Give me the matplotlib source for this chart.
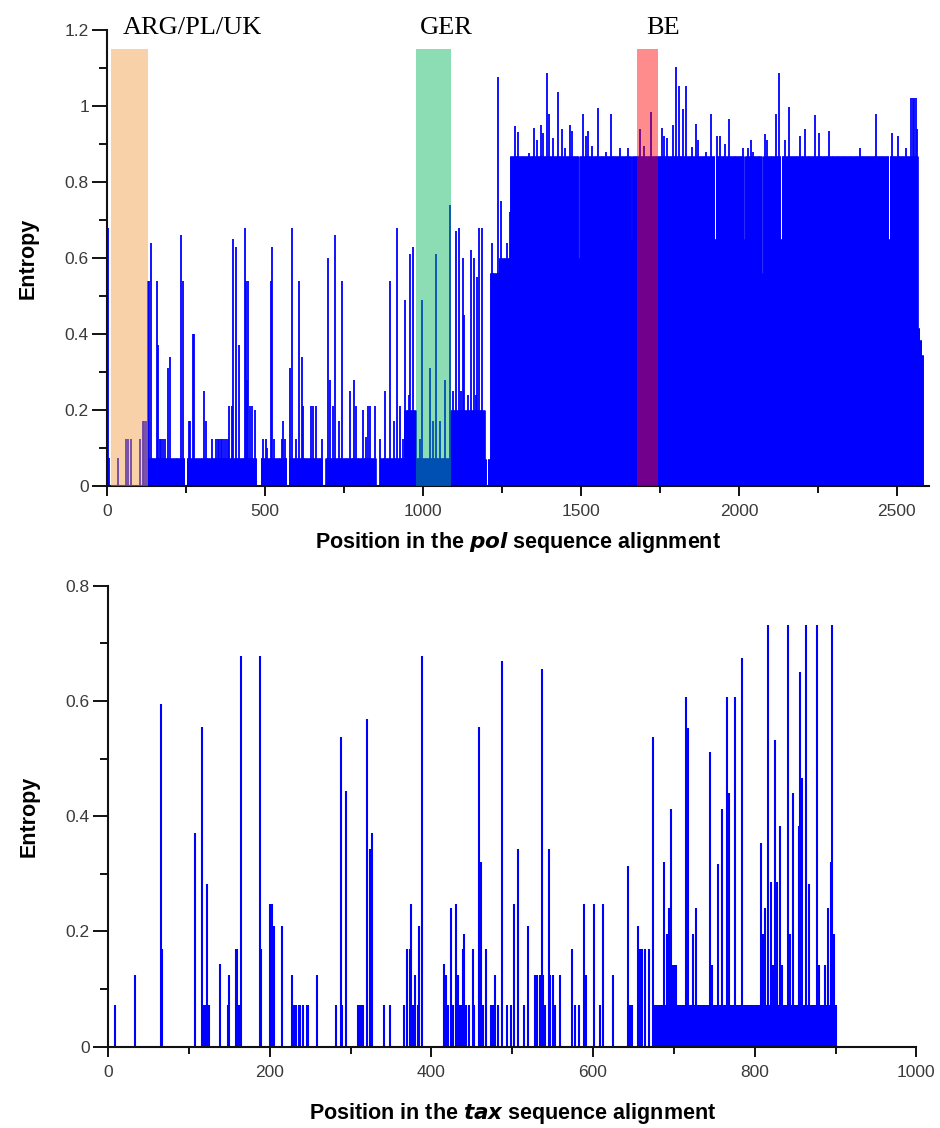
import matplotlib
matplotlib.use("Agg")
import matplotlib.pyplot as plt
from matplotlib.ticker import MultipleLocator, FormatStrFormatter
import numpy as np

# ---- pol alignment (top panel) ----
pol_length = 2583
# background fill: (start, end, entropy level)
pol_blocks = [(130, 246, 0.073), (252, 473, 0.073), (486, 569, 0.073),
              (575, 681, 0.073), (691, 851, 0.073), (863, 1200, 0.073),
              (940, 978, 0.2), (1087, 1198, 0.2), (1205, 1240, 0.56),
              (1240, 1276, 0.6),
              (1276, 2567, 0.868), (2567, 2572, 0.415), (2572, 2578, 0.384),
              (2578, 2583, 0.345)]
# narrow dips inside the filled part: (start, end, level)
pol_dips = [(1196, 1212, 0.07), (1492, 1495, 0.6), (1659, 1662, 0.65),
            (1923, 1926, 0.65), (2016, 2019, 0.65), (2073, 2076, 0.56),
            (2132, 2135, 0.65), (2474, 2477, 0.65)]
pol_spike_pos = [2, 7, 35, 59, 66, 75, 105, 113, 118, 123, 130, 134, 139, 158, 161,
                 168, 172, 176, 184, 193, 198, 234, 240, 260, 263, 272, 277, 308,
                 314, 332, 345, 350, 355, 360, 365, 370, 376, 382, 387, 395, 400,
                 408, 419, 437, 440, 442, 445, 453, 460, 468, 495, 502, 508, 518,
                 523, 530, 553, 558, 563, 579, 586, 597, 607, 616, 621, 647, 653,
                 660, 679, 700, 705, 714, 721, 735, 745, 768, 781, 789, 811, 821,
                 826, 832, 849, 865, 881, 895, 908, 919, 926, 937, 944, 955, 960,
                 968, 992, 998, 1021, 1032, 1040, 1053, 1070, 1087, 1095, 1105,
                 1114, 1121, 1127, 1131, 1142, 1151, 1160, 1168, 1170, 1176, 1186,
                 1217, 1221, 1236, 1247, 1265, 1275,
                 1291, 1302, 1337, 1351, 1360, 1373, 1381, 1393, 1398, 1413, 1426,
                 1439, 1450, 1464, 1471, 1507, 1516, 1523, 1534, 1555, 1578, 1594,
                 1623, 1650, 1686, 1698, 1722, 1756, 1763, 1772, 1790, 1801, 1809,
                 1823, 1833, 1851, 1865, 1872, 1896, 1911, 1932, 1939, 1957, 1968,
                 2012, 2030, 2039, 2046, 2082, 2090, 2117, 2127, 2146, 2160, 2192,
                 2210, 2240, 2253, 2284, 2384, 2434, 2483, 2504, 2529, 2545, 2550,
                 2555, 2560, 2564]
pol_spike_val = [0.68, 0.073, 0.073, 0.125, 0.125, 0.125, 0.125, 0.17, 0.17, 0.17, 0.54, 0.54, 0.64, 0.54, 0.37,
                 0.125, 0.125, 0.125, 0.125, 0.31, 0.34, 0.66, 0.54, 0.17, 0.17, 0.4, 0.4, 0.25,
                 0.17, 0.125, 0.125, 0.125, 0.125, 0.125, 0.125, 0.125, 0.125, 0.125, 0.21, 0.21, 0.65,
                 0.63, 0.37, 0.68, 0.54, 0.28, 0.54, 0.21, 0.21, 0.2, 0.125, 0.125, 0.1, 0.54,
                 0.63, 0.125, 0.125, 0.17, 0.125, 0.31, 0.68, 0.125, 0.54, 0.34, 0.21, 0.21, 0.21,
                 0.21, 0.125, 0.60, 0.28, 0.21, 0.66, 0.17, 0.54, 0.25, 0.28, 0.21, 0.2, 0.13,
                 0.21, 0.21, 0.21, 0.125, 0.25, 0.54, 0.17, 0.68, 0.21, 0.125, 0.49, 0.24, 0.61,
                 0.63, 0.125, 0.49, 0.31, 0.17, 0.61, 0.17, 0.28, 0.74, 0.25, 0.67,
                 0.68, 0.25, 0.60, 0.45, 0.24, 0.62, 0.60, 0.24, 0.55, 0.68, 0.68,
                 0.64, 0.56, 1.077, 0.75, 0.64, 0.72,
                 0.948, 0.932, 0.877, 0.941, 0.91, 0.95, 0.93, 1.086, 0.98, 0.915, 1.038,
                 0.94, 0.89, 0.95, 0.935, 0.98, 0.92, 0.935, 0.895, 0.994, 0.88, 0.98,
                 0.89, 0.89, 0.94, 0.895, 0.983, 0.943, 0.92, 0.915, 0.95, 1.102, 1.053,
                 0.993, 1.053, 0.893, 0.952, 0.91, 0.88, 0.979, 0.92, 0.92, 0.9, 0.967,
                 0.89, 0.89, 0.91, 0.88, 0.926, 0.91, 0.98, 1.086, 0.91, 0.997, 0.92,
                 0.94, 0.976, 0.93, 0.934, 0.89, 0.98, 0.93, 0.92, 0.89, 1.02, 1.02,
                 1.02, 1.02, 0.94]

# highlighted regions of the pol alignment
region_names = ["ARG/PL/UK", "GER", "BE"]
region_start = [12, 978, 1678]
region_end = [129, 1089, 1745]
region_top = 1.15
region_label_x = [50, 990, 1705]
region_colors = ["#f2993f", "#00b359", "#ff0000"]

# ---- tax alignment (bottom panel) ----
tax_length = 902
tax_blocks = [(679, 901, 0.073)]
tax_spike_pos = [9, 33, 66, 67, 107, 116, 119, 121, 123, 125, 139, 149, 150, 158, 160, 162,
                 164, 188, 189, 201, 203, 205, 215, 228, 230, 233, 236, 238, 241, 246, 248,
                 259, 282, 288, 289, 295, 309, 311, 313, 316, 320, 324, 327, 341, 349, 366,
                 370, 373, 375, 377, 380, 383, 385, 388, 416, 418, 421, 424, 427, 430, 433,
                 435, 437, 439, 440, 443, 446, 451, 453, 459, 461, 464, 468, 474, 476, 479,
                 483, 487, 493, 498, 502, 507, 514, 520, 528, 531, 534, 537, 538, 541, 545,
                 547, 550, 553, 559, 574, 578, 583, 589, 591, 601, 608, 612, 625, 643, 646,
                 648, 656, 658, 661, 664, 669, 674, 677,
                 688, 691, 694, 696, 699, 701, 703, 715, 718, 724, 727, 745, 747, 754, 760,
                 766, 768, 775, 784, 808, 810, 813, 817, 820, 823, 825, 828, 831, 834, 841,
                 844, 847, 855, 856, 859, 863, 867, 877, 879, 887, 891, 894, 896, 898]
tax_spike_val = [0.073, 0.124, 0.595, 0.17, 0.37, 0.555, 0.073, 0.073, 0.282, 0.073, 0.144, 0.073, 0.125, 0.17, 0.17, 0.073,
                 0.678, 0.678, 0.17, 0.247, 0.247, 0.21, 0.21, 0.124, 0.073, 0.073, 0.073, 0.073, 0.073, 0.073, 0.073,
                 0.124, 0.073, 0.538, 0.073, 0.443, 0.073, 0.073, 0.073, 0.073, 0.569, 0.343, 0.37, 0.073, 0.073, 0.073,
                 0.17, 0.17, 0.247, 0.073, 0.124, 0.073, 0.21, 0.678, 0.144, 0.125, 0.073, 0.24, 0.073, 0.247, 0.125,
                 0.073, 0.073, 0.17, 0.195, 0.073, 0.073, 0.17, 0.073, 0.555, 0.32, 0.073, 0.17, 0.073, 0.073, 0.125,
                 0.073, 0.67, 0.073, 0.073, 0.247, 0.343, 0.073, 0.21, 0.125, 0.125, 0.125, 0.656, 0.125, 0.073, 0.343,
                 0.125, 0.125, 0.073, 0.125, 0.17, 0.073, 0.073, 0.247, 0.125, 0.247, 0.073, 0.247, 0.125, 0.314, 0.073,
                 0.073, 0.21, 0.17, 0.17, 0.17, 0.17, 0.538, 0.073,
                 0.32, 0.195, 0.24, 0.413, 0.142, 0.142, 0.142, 0.606, 0.553, 0.195, 0.24, 0.511, 0.142, 0.317, 0.413,
                 0.606, 0.44, 0.606, 0.674, 0.353, 0.195, 0.24, 0.732, 0.285, 0.142, 0.533, 0.285, 0.383, 0.142, 0.732,
                 0.195, 0.44, 0.383, 0.65, 0.466, 0.732, 0.282, 0.732, 0.142, 0.142, 0.24, 0.32, 0.732, 0.195]


def build_profile(length, blocks, dips):
    y = np.zeros(length)
    for s, e, v in blocks:
        y[s:e] = v
    for s, e, v in dips:
        y[s:e] = np.minimum(y[s:e], v)
    return y


def style_axes(ax, xmajor, xminor, ymajor, yminor):
    for side in ["top", "right"]:
        ax.spines[side].set_visible(False)
    for side in ["left", "bottom"]:
        ax.spines[side].set_linewidth(1.5)
        ax.spines[side].set_color("#111111")
    ax.xaxis.set_major_locator(MultipleLocator(xmajor))
    ax.xaxis.set_minor_locator(MultipleLocator(xminor))
    ax.yaxis.set_major_locator(MultipleLocator(ymajor))
    ax.yaxis.set_minor_locator(MultipleLocator(yminor))
    ax.yaxis.set_major_formatter(FormatStrFormatter("%g"))
    ax.tick_params(axis="both", which="both", direction="out", width=1.4,
                   color="#111111", labelcolor="#3a3a3a", labelsize=12.5)
    ax.tick_params(axis="y", which="major", length=11, pad=2)
    ax.tick_params(axis="y", which="minor", length=6)
    ax.tick_params(axis="x", which="major", length=7, pad=6)
    ax.tick_params(axis="x", which="minor", length=5)


plt.rcParams["font.family"] = ["Liberation Sans", "DejaVu Sans"]
blue = "#0000ff"

fig = plt.figure(figsize=(9.4, 11.28), dpi=100)

# top panel
ax1 = fig.add_axes([0.1138, 0.5691, 0.874, 0.4043])
pol_x = np.arange(pol_length)
pol_y = build_profile(pol_length, pol_blocks, pol_dips)
mask = pol_y > 0
ax1.vlines(pol_x[mask], 0, pol_y[mask], color=blue, linewidth=0.6)
ax1.vlines(pol_spike_pos, 0, pol_spike_val, color=blue, linewidth=1.3)
for name, s, e, lx, c in zip(region_names, region_start, region_end, region_label_x, region_colors):
    ax1.axvspan(s, e, ymin=0, ymax=region_top / 1.2, color=c, alpha=0.45, linewidth=0, zorder=3)
    ax1.text(lx, 1.19, name, family="Liberation Serif", fontsize=19, ha="left", va="baseline")
ax1.set_xlim(0, 2600)
ax1.set_ylim(0, 1.2)
style_axes(ax1, 500, 250, 0.2, 0.1)
ax1.set_ylabel("Entropy", fontsize=15.5, fontweight="bold", labelpad=19)
ax1.set_xlabel("Position in the $\\bfit{pol}$ sequence alignment", fontsize=15.5,
               fontweight="bold", labelpad=8)

# bottom panel
ax2 = fig.add_axes([0.1149, 0.0721, 0.860, 0.4087])
tax_x = np.arange(tax_length)
tax_y = build_profile(tax_length, tax_blocks, [])
mask = tax_y > 0
ax2.vlines(tax_x[mask], 0, tax_y[mask], color=blue, linewidth=1.5)
ax2.vlines(tax_spike_pos, 0, tax_spike_val, color=blue, linewidth=1.5)
ax2.set_xlim(0, 1000)
ax2.set_ylim(0, 0.8)
style_axes(ax2, 200, 100, 0.2, 0.1)
ax2.set_ylabel("Entropy", fontsize=15.5, fontweight="bold", labelpad=19)
ax2.set_xlabel("Position in the $\\bfit{tax}$ sequence alignment", fontsize=15.5,
               fontweight="bold", labelpad=15)

fig.savefig("out.png", dpi=100)
